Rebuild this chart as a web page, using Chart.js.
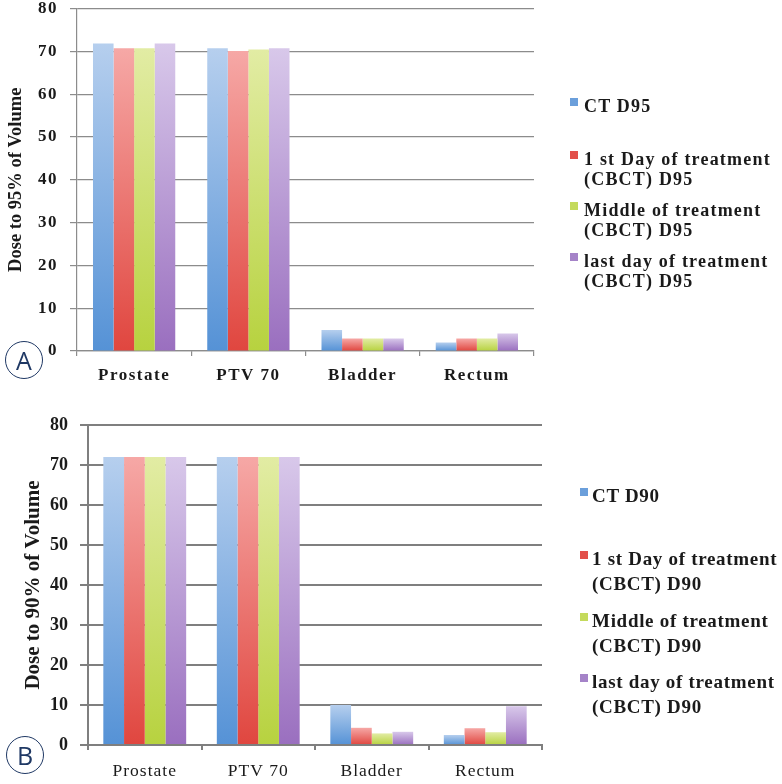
<!DOCTYPE html>
<html>
<head>
<meta charset="utf-8">
<script src="https://cdn.jsdelivr.net/npm/chart.js@4.4.1/dist/chart.umd.min.js"></script>
<style>
    body { margin: 0; background: #fff; }
    #page { position: relative; width: 782px; height: 784px; overflow: hidden; }
    .box { position: absolute; left: 0; width: 782px; height: 392px; }
    .legend { position: absolute; font-family: "Liberation Serif", serif; font-weight: bold; color: #1a1a1a; }
    .legend .item { position: absolute; left: 0; white-space: pre; }
    .legend .mark { position: absolute; width: 8px; height: 8px; }
    .tag { position: absolute; width: 36px; height: 36px; border: 1.5px solid #1f3864; border-radius: 50%;
           font-family: "Open Sans", sans-serif; font-size: 25px; color: #1f3864;
           display: flex; align-items: center; justify-content: center; line-height: 1; }
</style>
</head>
<body>
<div id="page">
    <div class="box" style="top:0"><canvas id="chartA" width="782" height="392"></canvas></div>
    <div class="box" style="top:392px"><canvas id="chartB" width="782" height="392"></canvas></div>
    <div class="legend" id="legendA"></div>
    <div class="legend" id="legendB"></div>
    <div class="tag" style="left:5px;top:341px">A</div>
    <div class="tag" style="left:6px;top:736px">B</div>
</div>
<script>
// data
const categories = ['Prostate', 'PTV 70', 'Bladder', 'Rectum'];

const seriesA = ['CT D95', '1 st Day of treatment\n(CBCT) D95', 'Middle of treatment\n(CBCT) D95', 'last day of treatment\n(CBCT) D95'];
const ctD95 = [71.8, 70.7, 4.9, 2.0];
const firstD95 = [70.7, 70.1, 2.9, 2.9];
const middleD95 = [70.7, 70.4, 2.9, 2.9];
const lastD95 = [71.8, 70.7, 2.9, 4.1];

const seriesB = ['CT D90', '1 st Day of treatment\n(CBCT) D90', 'Middle of treatment\n(CBCT) D90', 'last day of treatment\n(CBCT) D90'];
const ctD90 = [72, 72, 10, 2.5];
const firstD90 = [72, 72, 4.3, 4.2];
const middleD90 = [72, 72, 2.9, 3.2];
const lastD90 = [72, 72, 3.3, 9.7];

const yMin = 0, yMax = 80, yStep = 10;

// light top -> dark bottom, like the excel gradient fill
const shades = [
    { light: '#b6cfee', dark: '#5592d6', mark: '#6b9fdb' },
    { light: '#f6a8a6', dark: '#e0463f', mark: '#e2504a' },
    { light: '#e2eca4', dark: '#b7d23f', mark: '#c4da5c' },
    { light: '#d8c8ea', dark: '#9a6fbf', mark: '#a583c8' }
];

function barFill(shade) {
    return function (ctx) {
        const chart = ctx.chart;
        if (ctx.type !== 'data' || !chart.chartArea) return shade.dark;
        const y = chart.scales.y;
        const top = y.getPixelForValue(ctx.raw);
        const base = y.getPixelForValue(0);
        const g = chart.ctx.createLinearGradient(0, top, 0, base);
        g.addColorStop(0, shade.light);
        g.addColorStop(1, shade.dark);
        return g;
    };
}

// canvas letter spacing for tick labels (the source image is stretched sideways)
const spacing = {
    id: 'spacing',
    afterLayout(chart, args, opts) {
        Object.values(chart.scales).forEach(s => {
            if (s._spaced) return;
            const dt = s.drawTitle.bind(s), dl = s.drawLabels.bind(s);
            s.drawTitle = function () { s.ctx.letterSpacing = '0px'; dt(); };
            s.drawLabels = function (area) {
                s.ctx.letterSpacing = (opts[s.id] || 0) + 'px';
                dl(area);
                s.ctx.letterSpacing = '0px';
            };
            s._spaced = true;
        });
    }
};

function makeChart(id, lists, c) {
    const ctx = document.getElementById(id).getContext('2d');
    return new Chart(ctx, {
        type: 'bar',
        data: {
            labels: categories,
            datasets: lists.map((d, i) => ({
                label: c.names[i],
                data: d,
                backgroundColor: barFill(shades[i]),
                borderWidth: 0,
                categoryPercentage: c.catPct,
                barPercentage: 1
            }))
        },
        plugins: [spacing],
        options: {
            responsive: false,
            animation: false,
            layout: { padding: { top: c.top, right: c.right, left: 0, bottom: 0 } },
            plugins: {
                legend: { display: false },
                tooltip: { enabled: false },
                spacing: c.spacing
            },
            scales: {
                x: {
                    offset: true,
                    grid: { offset: true, drawOnChartArea: false, drawTicks: true, tickLength: 5, color: c.line, lineWidth: c.lw },
                    border: { color: c.line, width: c.lw },
                    ticks: { color: '#1a1a1a', padding: c.xPad, font: { family: 'Liberation Serif', size: c.xSize, weight: c.xWeight } },
                    afterFit: s => { s.height = c.xHeight; s.paddingLeft = 0; s.paddingRight = 0; }
                },
                y: {
                    min: yMin,
                    max: yMax,
                    grid: { color: c.line, lineWidth: c.lw, tickLength: c.yTick },
                    border: { color: c.line, width: c.lw },
                    ticks: { stepSize: yStep, color: '#1a1a1a', padding: c.yPad, font: { family: 'Liberation Serif', size: c.ySize, weight: 'bold' } },
                    title: {
                        display: true,
                        text: c.title,
                        color: '#1a1a1a',
                        padding: { top: c.titlePad, bottom: 0 },
                        font: { family: 'Liberation Serif', size: c.titleSize, weight: 'bold' }
                    },
                    afterFit: s => { s.width = c.yWidth; s.paddingTop = 0; s.paddingBottom = 0; }
                }
            }
        }
    });
}

makeChart('chartA', [ctD95, firstD95, middleD95, lastD95], {
    names: seriesA, catPct: 0.72, top: 8.5, right: 248,
    line: '#8c8c8c', lw: 1.2,
    xPad: 9, xSize: 17, xWeight: 'bold', xHeight: 41,
    yTick: 7, yPad: 12, ySize: 17, yWidth: 77,
    title: 'Dose to 95% of Volume', titleSize: 18.5, titlePad: 5,
    spacing: { x: 1.5, y: 1.5 }
});

makeChart('chartB', [ctD90, firstD90, middleD90, lastD90], {
    names: seriesB, catPct: 0.73, top: 33, right: 240,
    line: '#7f7f7f', lw: 2,
    xPad: 11, xSize: 17.5, xWeight: 'normal', xHeight: 39,
    yTick: 8, yPad: 12, ySize: 18, yWidth: 88,
    title: 'Dose to 90% of Volume', titleSize: 21, titlePad: 21,
    spacing: { x: 1, y: 0 }
});

// html legends to the right of each chart
function makeLegend(id, names, L) {
    const el = document.getElementById(id);
    el.style.left = L.left + 'px';
    el.style.top = '0px';
    el.style.fontSize = L.size + 'px';
    el.style.lineHeight = L.lh + 'px';
    el.style.letterSpacing = L.ls + 'px';
    names.forEach((n, i) => {
        const m = document.createElement('div');
        m.className = 'mark';
        m.style.background = shades[i].mark;
        m.style.left = (L.markX - L.left) + 'px';
        m.style.top = (L.tops[i] + L.markDy) + 'px';
        el.appendChild(m);
        const t = document.createElement('div');
        t.className = 'item';
        t.style.top = L.tops[i] + 'px';
        t.textContent = n;
        el.appendChild(t);
    });
}

makeLegend('legendA', seriesA, { left: 584, markX: 570, size: 18, lh: 20, ls: 1.2, markDy: 2.5, tops: [95.5, 148.5, 199.5, 250.5] });
makeLegend('legendB', seriesB, { left: 592, markX: 580, size: 19, lh: 25, ls: 0.7, markDy: 4.5, tops: [483, 546, 608, 669] });
</script>
</body>
</html>
